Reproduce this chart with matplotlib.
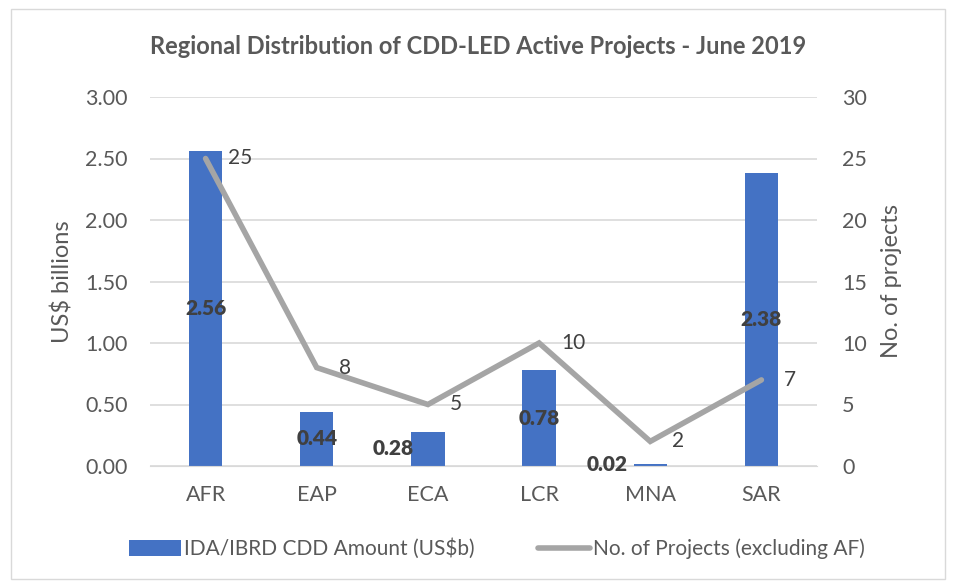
import matplotlib.pyplot as plt
from matplotlib.patches import Rectangle

plt.rcParams['font.family'] = ['Lato', 'DejaVu Sans']

regions = ['AFR', 'EAP', 'ECA', 'LCR', 'MNA', 'SAR']
amount = [2.56, 0.44, 0.28, 0.78, 0.02, 2.38]
projects = [25, 8, 5, 10, 2, 7]
amount_labels = ['2.56', '0.44', '0.28', '0.78', '0.02', '2.38']

bar_color = '#4472C4'
line_color = '#A5A5A5'
text_color = '#595959'
label_color = '#404040'

fig = plt.figure(figsize=(9.56, 5.87), dpi=100)
fig.patches.append(Rectangle((0.011, 0.014), 0.978, 0.97, transform=fig.transFigure,
                             fill=False, edgecolor='#D9D9D9', linewidth=1))
ax = fig.add_axes([150 / 956, 1 - 466 / 587, 667 / 956, 369 / 587])
ax2 = ax.twinx()

x = list(range(len(regions)))
bars = ax.bar(x, amount, width=0.3, color=bar_color, zorder=2,
              label='IDA/IBRD CDD Amount (US$b)')
line, = ax2.plot(x, projects, color=line_color, linewidth=4, zorder=3,
                 solid_capstyle='round', solid_joinstyle='miter',
                 label='No. of Projects (excluding AF)')

ax.set_xlim(-0.5, len(regions) - 0.5)
ax.set_ylim(0, 3)
ax2.set_ylim(0, 30)
ax.set_yticks([i * 0.5 for i in range(7)])
ax.set_yticklabels([f'{i * 0.5:.2f}' for i in range(7)])
ax2.set_yticks(range(0, 31, 5))
ax.set_xticks(x)
ax.set_xticklabels(regions)

ax.grid(axis='y', color='#D9D9D9', linewidth=1.2, zorder=0)
ax.set_axisbelow(True)
for a in (ax, ax2):
    for s in a.spines.values():
        s.set_visible(False)
    a.tick_params(length=0, colors=text_color, labelsize=15.5)
ax.spines['bottom'].set_visible(True)
ax.spines['bottom'].set_color('#D9D9D9')
ax.tick_params(axis='x', pad=14)
ax.tick_params(axis='y', pad=16)
ax2.tick_params(axis='y', pad=18)

ax.set_ylabel('US$ billions', fontsize=17, color=text_color, va='center')
ax.yaxis.set_label_coords((63 - 150) / 667, 0.5)
ax2.set_ylabel('No. of projects', fontsize=17, color=text_color, va='center')
ax2.yaxis.set_label_coords((892 - 150) / 667, 0.5)

# bar value labels, centred in the bar; small bars pushed left
offsets = [0, 0, -25, 0, -31, 0]
for xi, v, lab, off in zip(x, amount, amount_labels, offsets):
    ax.annotate(lab, (xi, v / 2), xytext=(off, 0), textcoords='offset points',
                ha='center', va='center', fontsize=15, fontweight='heavy',
                color=label_color, zorder=5)

for xi, p in zip(x, projects):
    ax2.annotate(str(p), (xi, p), xytext=(16, 0), textcoords='offset points',
                 ha='left', va='center', fontsize=15, color=label_color, zorder=5)

fig.text(0.5, 1 - 47 / 587, 'Regional Distribution of CDD-LED Active Projects - June 2019',
         ha='center', va='center', fontsize=17, fontweight='bold', color=text_color)

fig.legend(handles=[bars, line], loc='center', bbox_to_anchor=(497 / 956, 1 - 549 / 587),
           ncol=2, frameon=False, fontsize=15, labelcolor=text_color,
           handlelength=2.5, handleheight=0.75, handletextpad=0.15, columnspacing=3)

fig.savefig('out.png', dpi=100)
